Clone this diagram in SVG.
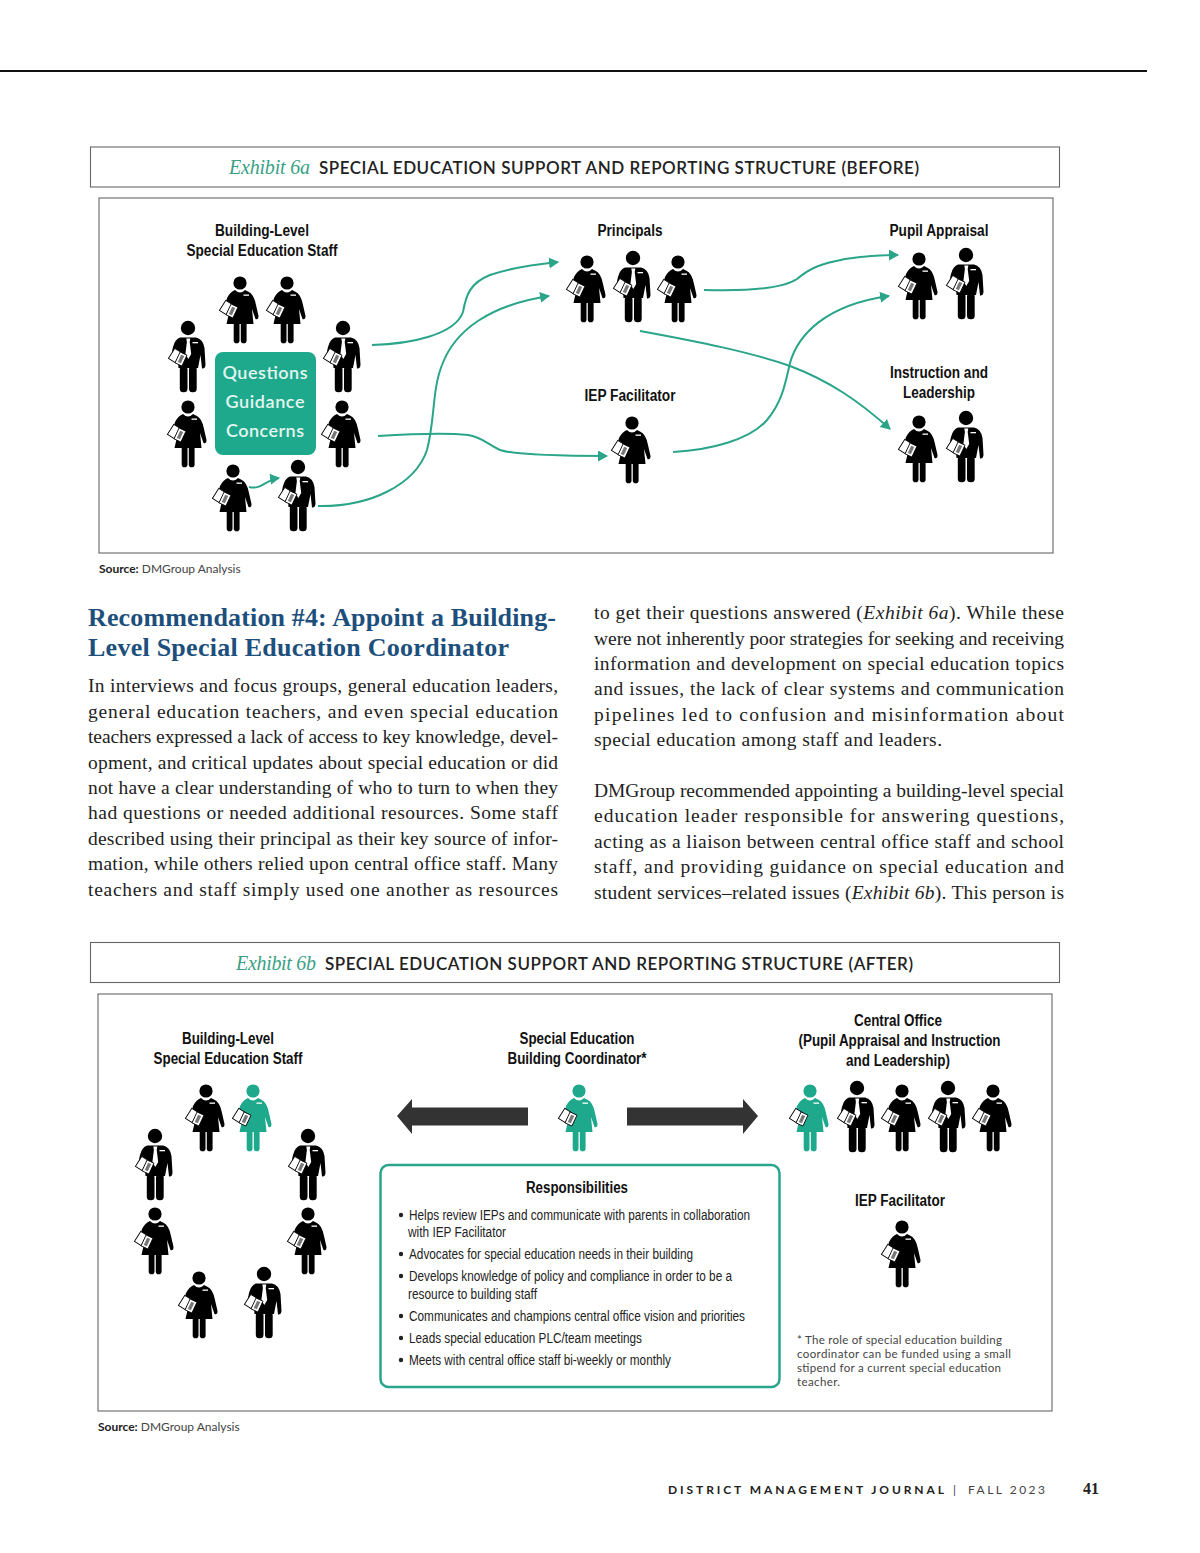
<svg xmlns="http://www.w3.org/2000/svg" xmlns:xlink="http://www.w3.org/1999/xlink" width="1200" height="1553" viewBox="0 0 1200 1553">
<style>
.frame{fill:#fff;stroke:#666;stroke-width:1.100}
.lbl{font:bold 16px "Liberation Sans",Arial,sans-serif;fill:#111;text-anchor:middle}
.li{font:14px "Liberation Sans",Arial,sans-serif;fill:#222}
.body{font:19.500px "Liberation Serif","Times New Roman",serif;fill:#222}
.h{font:bold 26px "Liberation Serif","Times New Roman",serif;fill:#1d4f7c}
.ex{font:italic 20px "Liberation Serif","Times New Roman",serif;fill:#3a9f85}
.tt{font:600 17px Lato,"Liberation Sans",sans-serif;fill:#222}
.src{font:12px Lato,"Liberation Sans",sans-serif;fill:#444}
.src tspan{font-weight:bold;fill:#222}
.note{font:11.500px Lato,"Liberation Sans",sans-serif;fill:#444}
.q{font:600 18px Lato,"Liberation Sans",sans-serif;fill:#e4f5f0;text-anchor:middle}
.conn path{fill:none;stroke:#2aa58a;stroke-width:2;marker-end:url(#ah)}
.k{color:#000}.t{color:#1fa98c}
</style>
<defs>
<marker id="ah" markerUnits="userSpaceOnUse" markerWidth="11" markerHeight="12" refX="9" refY="5.500" orient="auto"><path d="M0 0L10 5.500L0 11Z" fill="#2aa58a" stroke="none"/></marker>
<g id="clip"><rect x="-4" y="-6" width="8" height="12" fill="#fff" stroke="#000" stroke-width="0.900" transform="translate(-6,-3.500) rotate(32)"/><rect x="-3.800" y="-6" width="7.600" height="12" fill="#fff" stroke="#000" stroke-width="0.800" transform="rotate(25)"/><rect x="-1.700" y="-4" width="3.400" height="8" fill="#777" transform="rotate(25)"/></g>
<g id="woman"><g fill="currentColor"><circle r="6.600"/><path d="M-5 7Q0 12 5 7L8 8.500Q14 11 16 22L18.500 33Q18.500 37 15.500 36L12 26L13.500 41H-13.500L-11 30L-15 27Q-15 20-13 15Q-10 9-5 7Z"/><rect x="-6.300" y="38" width="5.800" height="22.200" rx="2.800"/><rect x="0.800" y="38" width="5.800" height="22.200" rx="2.800"/></g><rect x="3.500" y="11.500" width="5.500" height="1.300" fill="#fff"/><use href="#clip" transform="translate(-8,28)"/></g>
<g id="man"><g fill="currentColor"><circle r="7.200"/><path d="M-8 9.500H8Q15 11 16.500 20L17.500 37Q17 41 14 40.500L12.500 27L10 40H-9.500L-10 34L-16 32Q-16.500 24-15 19Q-13 11-8 9.500Z"/><rect x="-8.200" y="38" width="7.700" height="26.300" rx="3.600"/><rect x="1" y="38" width="7.700" height="26.300" rx="3.600"/></g><path d="M-1.700 10.500H2.300L1.700 14L3.200 26L0.300 31L-2.600 26L-1.100 14Z" fill="#fff"/><rect x="4.500" y="14" width="5.500" height="1.300" fill="#fff"/><use href="#clip" transform="translate(-7,31)"/></g>
</defs>
<rect width="1200" height="1553" fill="#fff"/>
<line x1="0" y1="71" x2="1147" y2="71" stroke="#111" stroke-width="2"/>

<g id="title-6a"><rect class="frame" x="90.500" y="147" width="969" height="40"/><text class="ex" x="229" y="174" textLength="81">Exhibit 6a</text><text class="tt" x="319" y="174" textLength="600">SPECIAL EDUCATION SUPPORT AND REPORTING STRUCTURE (BEFORE)</text></g>
<rect id="panel-6a" class="frame" x="99" y="198" width="954" height="355"/>

<g id="labels-6a">
<text class="lbl" x="262" y="236" textLength="94" lengthAdjust="spacingAndGlyphs">Building-Level</text>
<text class="lbl" x="262" y="256" textLength="151" lengthAdjust="spacingAndGlyphs">Special Education Staff</text>
<text class="lbl" x="630" y="236" textLength="65" lengthAdjust="spacingAndGlyphs">Principals</text>
<text class="lbl" x="939" y="236" textLength="99" lengthAdjust="spacingAndGlyphs">Pupil Appraisal</text>
<text class="lbl" x="630" y="401" textLength="91" lengthAdjust="spacingAndGlyphs">IEP Facilitator</text>
<text class="lbl" x="939" y="378" textLength="98" lengthAdjust="spacingAndGlyphs">Instruction and</text>
<text class="lbl" x="939" y="398" textLength="72" lengthAdjust="spacingAndGlyphs">Leadership</text>
</g>

<g id="questions-box"><rect x="215" y="352" width="101" height="103" rx="8" fill="#1fa98c"/><text class="q" x="265" y="379" textLength="85">Questions</text><text class="q" x="265" y="408" textLength="79">Guidance</text><text class="q" x="265" y="437" textLength="78">Concerns</text></g>

<g id="people-6a-building" class="k">
<use id="a1" href="#woman" x="240" y="283"/><use id="a2" href="#woman" x="287" y="283"/>
<use id="a3" href="#man" x="188" y="328"/><use id="a4" href="#man" x="343" y="328"/>
<use id="a5" href="#woman" x="188" y="407"/><use id="a6" href="#woman" x="342" y="407"/>
<use id="a7" href="#woman" x="233" y="471"/><use id="a8" href="#man" x="298" y="467"/>
</g>
<g id="people-6a-principals" class="k"><use href="#woman" x="587" y="262"/><use href="#man" x="633" y="258"/><use href="#woman" x="678" y="262"/></g>
<g id="people-6a-pupil" class="k"><use href="#woman" x="919" y="259"/><use href="#man" x="966" y="255"/></g>
<g id="people-6a-iep" class="k"><use href="#woman" x="632" y="423"/></g>
<g id="people-6a-instruction" class="k"><use href="#woman" x="919" y="422"/><use href="#man" x="966" y="418"/></g>

<g id="connectors-6a" class="conn">
<path d="M372 345C410 344 455 335 463 312C466 295 470 283 490 275C510 268 530 265 558 262"/>
<path d="M378 436C410 434 450 433 468 435C482 437 487 444 500 450C515 455 560 456 607 456"/>
<path d="M318 506C370 507 415 485 427 450C435 420 432 390 442 365C455 330 490 305 549 296"/>
<path d="M704 290C735 291 780 290 797 279C810 268 820 264 845 259C865 256 880 255 898 255"/>
<path d="M640 331C700 342 750 352 790 366C830 381 860 402 890 429"/>
<path d="M673 452C710 450 750 440 767 420C782 402 785 385 790 363C798 335 825 305 889 296"/>
<path d="M249 487C262 490 265 480 279 478"/>
</g>

<text class="src" x="99" y="573"><tspan>Source:</tspan> DMGroup Analysis</text>

<g id="article">
<text class="h" x="88" y="626" textLength="468">Recommendation #4: Appoint a Building-</text>
<text class="h" x="88" y="656" textLength="421">Level Special Education Coordinator</text>
<g class="body">
<text x="88" y="692" textLength="470">In interviews and focus groups, general education leaders,</text>
<text x="88" y="718" textLength="470">general education teachers, and even special education</text>
<text x="88" y="743" textLength="470">teachers expressed a lack of access to key knowledge, devel-</text>
<text x="88" y="769" textLength="470">opment, and critical updates about special education or did</text>
<text x="88" y="794" textLength="470">not have a clear understanding of who to turn to when they</text>
<text x="88" y="819" textLength="470">had questions or needed additional resources. Some staff</text>
<text x="88" y="845" textLength="470">described using their principal as their key source of infor-</text>
<text x="88" y="870" textLength="470">mation, while others relied upon central office staff. Many</text>
<text x="88" y="896" textLength="470">teachers and staff simply used one another as resources</text>
<text x="594" y="619" textLength="470">to get their questions answered (<tspan font-style="italic">Exhibit 6a</tspan>). While these</text>
<text x="594" y="645" textLength="470">were not inherently poor strategies for seeking and receiving</text>
<text x="594" y="670" textLength="470">information and development on special education topics</text>
<text x="594" y="695" textLength="470">and issues, the lack of clear systems and communication</text>
<text x="594" y="721" textLength="470">pipelines led to confusion and misinformation about</text>
<text x="594" y="746" textLength="348">special education among staff and leaders.</text>
<text x="594" y="797" textLength="470">DMGroup recommended appointing a building-level special</text>
<text x="594" y="822" textLength="470">education leader responsible for answering questions,</text>
<text x="594" y="848" textLength="470">acting as a liaison between central office staff and school</text>
<text x="594" y="873" textLength="470">staff, and providing guidance on special education and</text>
<text x="594" y="899" textLength="470">student services–related issues (<tspan font-style="italic">Exhibit 6b</tspan>). This person is</text>
</g>
</g>

<g id="title-6b"><rect class="frame" x="90.500" y="942.500" width="969" height="40"/><text class="ex" x="236" y="970" textLength="80">Exhibit 6b</text><text class="tt" x="325" y="970" textLength="588">SPECIAL EDUCATION SUPPORT AND REPORTING STRUCTURE (AFTER)</text></g>
<rect id="panel-6b" class="frame" x="98" y="994" width="954" height="417"/>

<g id="labels-6b">
<text class="lbl" x="228" y="1044" textLength="92" lengthAdjust="spacingAndGlyphs">Building-Level</text>
<text class="lbl" x="228" y="1064" textLength="149" lengthAdjust="spacingAndGlyphs">Special Education Staff</text>
<text class="lbl" x="577" y="1044" textLength="115" lengthAdjust="spacingAndGlyphs">Special Education</text>
<text class="lbl" x="577" y="1064" textLength="139" lengthAdjust="spacingAndGlyphs">Building Coordinator*</text>
<text class="lbl" x="898" y="1026" textLength="88" lengthAdjust="spacingAndGlyphs">Central Office</text>
<text class="lbl" x="899.500" y="1046" textLength="202" lengthAdjust="spacingAndGlyphs">(Pupil Appraisal and Instruction</text>
<text class="lbl" x="898" y="1066" textLength="104" lengthAdjust="spacingAndGlyphs">and Leadership)</text>
<text class="lbl" x="900" y="1206" textLength="90" lengthAdjust="spacingAndGlyphs">IEP Facilitator</text>
</g>

<g id="people-6b-building" class="k">
<use href="#woman" x="206" y="1091"/><use href="#woman" x="253" y="1091" class="t"/>
<use href="#man" x="155" y="1136"/><use href="#man" x="308" y="1136"/>
<use href="#woman" x="155" y="1214"/><use href="#woman" x="308" y="1214"/>
<use href="#woman" x="199" y="1278"/><use href="#man" x="264" y="1274"/>
</g>
<g id="coordinator" class="t"><use href="#woman" x="579" y="1091"/></g>
<g id="people-6b-central" class="k">
<use href="#woman" x="810" y="1091" class="t"/><use href="#man" x="857" y="1088"/><use href="#woman" x="902" y="1091"/><use href="#man" x="948" y="1088"/><use href="#woman" x="993" y="1091"/>
</g>
<g id="people-6b-iep" class="k"><use href="#woman" x="902" y="1227"/></g>

<g id="connectors-6b" fill="#333">
<path d="M397 1116L412 1099V1107.500H528V1125.500H412V1134Z"/>
<path d="M758 1116L743 1099V1107.500H627V1125.500H743V1134Z"/>
</g>

<g id="responsibilities">
<rect x="380.500" y="1165" width="399" height="222" rx="8" fill="#fff" stroke="#2aa58a" stroke-width="2.500"/>
<text class="lbl" x="577" y="1193" textLength="102" lengthAdjust="spacingAndGlyphs">Responsibilities</text>
<g fill="#222"><circle cx="401" cy="1215" r="2.200"/><circle cx="401" cy="1254" r="2.200"/><circle cx="401" cy="1276" r="2.200"/><circle cx="401" cy="1316" r="2.200"/><circle cx="401" cy="1338" r="2.200"/><circle cx="401" cy="1360" r="2.200"/></g>
<g class="li">
<text x="409" y="1220" textLength="341" lengthAdjust="spacingAndGlyphs">Helps review IEPs and communicate with parents in collaboration</text>
<text x="408" y="1237" textLength="98" lengthAdjust="spacingAndGlyphs">with IEP Facilitator</text>
<text x="409" y="1259" textLength="284" lengthAdjust="spacingAndGlyphs">Advocates for special education needs in their building</text>
<text x="409" y="1281" textLength="323" lengthAdjust="spacingAndGlyphs">Develops knowledge of policy and compliance in order to be a</text>
<text x="408" y="1299" textLength="129" lengthAdjust="spacingAndGlyphs">resource to building staff</text>
<text x="409" y="1321" textLength="336" lengthAdjust="spacingAndGlyphs">Communicates and champions central office vision and priorities</text>
<text x="409" y="1343" textLength="233" lengthAdjust="spacingAndGlyphs">Leads special education PLC/team meetings</text>
<text x="409" y="1365" textLength="262" lengthAdjust="spacingAndGlyphs">Meets with central office staff bi-weekly or monthly</text>
</g>
</g>

<g class="note">
<text x="797" y="1344" textLength="205">* The role of special education building</text>
<text x="797" y="1358" textLength="214">coordinator can be funded using a small</text>
<text x="797" y="1372" textLength="204">stipend for a current special education</text>
<text x="797" y="1386" textLength="43">teacher.</text>
</g>
<text class="src" x="98" y="1431"><tspan>Source:</tspan> DMGroup Analysis</text>

<g id="footer">
<text x="668" y="1494" font-family="Lato,'Liberation Sans',sans-serif" font-size="12" font-weight="bold" fill="#222" textLength="276">DISTRICT MANAGEMENT JOURNAL</text>
<text x="953" y="1494" font-family="Lato,'Liberation Sans',sans-serif" font-size="12" fill="#444">|</text>
<text x="968" y="1494" font-family="Lato,'Liberation Sans',sans-serif" font-size="12" fill="#444" textLength="77">FALL 2023</text>
<text x="1083" y="1494" font-family="'Liberation Serif',serif" font-size="16" font-weight="bold" fill="#222">41</text>
</g>
</svg>
